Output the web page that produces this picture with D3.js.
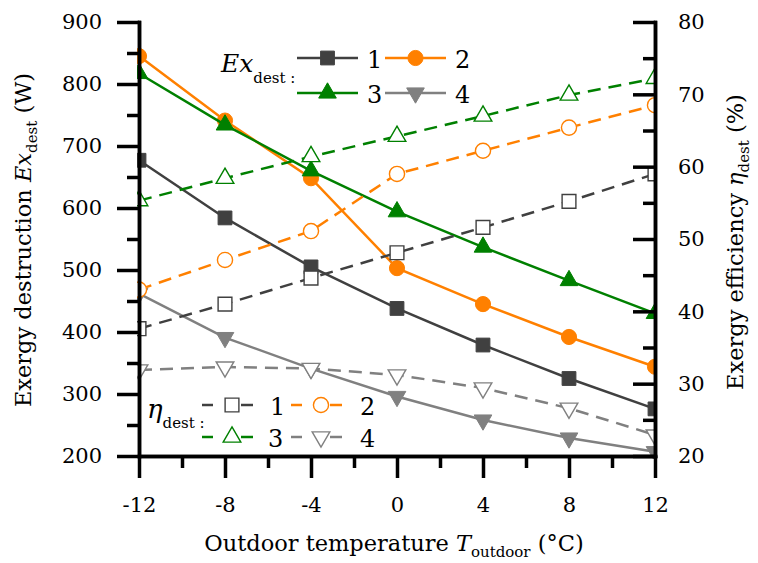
<!DOCTYPE html>
<html lang="en">
<head>
    <meta charset="UTF-8">
    <title>Exergy destruction and efficiency</title>
    <script src="https://d3js.org/d3.v7.min.js"></script>
    <style>
        body { margin: 0; background: #fff; }
        svg text { fill: #000; }
        .axis path, .axis line { stroke: #000; stroke-width: 3.5px; }
        .line { fill: none; stroke-width: 2.5px; }
    </style>
</head>
<body>
<div id="chart"></div>
<script>
    // outdoor temperature (°C)
    var temps = [-12, -8, -4, 0, 4, 8, 12];

    // exergy destruction Ex_dest (W), cases 1..4
    var ex1 = [677, 584, 505, 438, 379, 325, 276];
    var ex2 = [845, 741, 648, 503, 445, 392, 344];
    var ex3 = [817, 734, 660, 594, 537, 483, 430];
    var ex4 = [462, 391, 341, 296, 258, 229, 207];

    // exergy efficiency eta_dest (%), cases 1..4
    var eta1 = [37.6, 41.0, 44.6, 48.1, 51.6, 55.2, 59.0];
    var eta2 = [43.0, 47.1, 51.1, 59.0, 62.2, 65.4, 68.5];
    var eta3 = [55.3, 58.4, 61.4, 64.2, 67.0, 69.9, 72.2];
    var eta4 = [31.9, 32.3, 32.1, 31.2, 29.4, 26.6, 22.9];

    var xTicks = [-12, -8, -4, 0, 4, 8, 12];
    var yTicks = [200, 300, 400, 500, 600, 700, 800, 900];
    var y2Ticks = [20, 30, 40, 50, 60, 70, 80];

    var colors = ["#404040", "#ff8000", "#008000", "#808080"];
    var shapes = ["square", "circle", "triangle", "triangleDown"];

    var FONT = "'DejaVu Serif', 'Liberation Serif', serif";

    var W = 758, H = 563;
    var pLeft = 139, pRight = 655, pTop = 22, pBottom = 456;

    var x = d3.scaleLinear().domain([-12, 12]).range([pLeft, pRight]);
    var y = d3.scaleLinear().domain([200, 900]).range([pBottom, pTop]);
    var y2 = d3.scaleLinear().domain([20, 80]).range([pBottom, pTop]);

    var svg = d3.select("#chart").append("svg")
        .attr("width", W)
        .attr("height", H)
        .attr("font-family", FONT);

    svg.append("clipPath").attr("id", "clip")
        .append("rect")
        .attr("x", pLeft - 2).attr("y", 0)
        .attr("width", pRight - pLeft + 4).attr("height", pBottom + 3);

    function symbolPath(shape) {
        var type = d3.symbolSquare, size = 190;
        if (shape === "circle") { type = d3.symbolCircle; size = 180; }
        if (shape === "triangle" || shape === "triangleDown") { type = d3.symbolTriangle; size = 135; }
        return d3.symbol().type(type).size(size)();
    }

    function marker(g, shape, color, filled, cx, cy) {
        g.append("path")
            .attr("d", symbolPath(shape))
            .attr("transform", "translate(" + cx + "," + cy + ")" + (shape === "triangleDown" ? " rotate(180)" : ""))
            .attr("fill", filled ? color : "#fff")
            .attr("stroke", color)
            .attr("stroke-width", filled ? 1 : 1.4);
    }

    var plot = svg.append("g").attr("clip-path", "url(#clip)");

    function drawSeries(vals, scale, i, dashed) {
        var pts = temps.map(function(t, k) { return [x(t), scale(vals[k])]; });
        plot.append("path")
            .attr("class", "line")
            .attr("d", d3.line()(pts))
            .attr("stroke", colors[i])
            .attr("stroke-dasharray", dashed ? "13,8" : null);
        pts.forEach(function(p) { marker(plot, shapes[i], colors[i], !dashed, p[0], p[1]); });
    }

    [ex1, ex2, ex3, ex4].forEach(function(v, i) { drawSeries(v, y, i, false); });
    [eta1, eta2, eta3, eta4].forEach(function(v, i) { drawSeries(v, y2, i, true); });

    // axes
    var fmt = function(d) { return String(d); };

    function minor(ticks) {
        var out = [];
        for (var k = 0; k < ticks.length - 1; k++) out.push((ticks[k] + ticks[k + 1]) / 2);
        return out;
    }

    function addAxis(axis, tx, ty) {
        svg.append("g").attr("class", "axis")
            .attr("transform", "translate(" + tx + "," + ty + ")")
            .call(axis)
            .attr("font-family", FONT);
    }

    addAxis(d3.axisBottom(x).tickValues(minor(xTicks)).tickSize(12).tickSizeOuter(0).tickFormat(""), 0, pBottom);
    addAxis(d3.axisBottom(x).tickValues(xTicks).tickSize(22).tickSizeOuter(0).tickPadding(19).tickFormat(fmt), 0, pBottom);
    addAxis(d3.axisLeft(y).tickValues(minor(yTicks)).tickSize(12).tickSizeOuter(0).tickFormat(""), pLeft, 0);
    addAxis(d3.axisLeft(y).tickValues(yTicks).tickSize(22).tickSizeOuter(0).tickPadding(15).tickFormat(fmt), pLeft, 0);
    addAxis(d3.axisRight(y2).tickValues(minor(y2Ticks)).tickSize(-12).tickSizeOuter(0).tickFormat(""), pRight, 0);
    addAxis(d3.axisRight(y2).tickValues(y2Ticks).tickSize(-22).tickSizeOuter(0).tickPadding(23).tickFormat(fmt), pRight, 0);

    svg.selectAll(".axis path").attr("stroke-linecap", "square");
    svg.selectAll(".axis text").attr("font-size", 21);

    // axis titles
    var xt = svg.append("text")
        .attr("x", 394).attr("y", 551)
        .attr("text-anchor", "middle")
        .style("font-size", "22.5px");
    xt.append("tspan").text("Outdoor temperature ");
    xt.append("tspan").style("font-style", "italic").text("T");
    xt.append("tspan").attr("dy", 6).style("font-size", "15px").text("outdoor");
    xt.append("tspan").attr("dy", -6).text(" (°C)");

    var yt = svg.append("text")
        .attr("transform", "translate(31,240) rotate(-90)")
        .attr("text-anchor", "middle")
        .style("font-size", "22.5px");
    yt.append("tspan").text("Exergy destruction ");
    yt.append("tspan").style("font-style", "italic").text("Ex");
    yt.append("tspan").attr("dy", 6).style("font-size", "15px").text("dest");
    yt.append("tspan").attr("dy", -6).text(" (W)");

    var y2t = svg.append("text")
        .attr("transform", "translate(743,242) rotate(-90)")
        .attr("text-anchor", "middle")
        .style("font-size", "22.5px");
    y2t.append("tspan").text("Exergy efficiency ");
    y2t.append("tspan").style("font-style", "italic").text("η");
    y2t.append("tspan").attr("dy", 6).style("font-size", "15px").text("dest");
    y2t.append("tspan").attr("dy", -6).text(" (%)");

    // legend: Ex_dest
    var leg1 = svg.append("g");
    var l1 = leg1.append("text").attr("x", 221).attr("y", 72).style("font-size", "25px");
    l1.append("tspan").style("font-style", "italic").text("Ex");
    l1.append("tspan").attr("dy", 11).style("font-size", "15px").text("dest :");

    var legPos1 = [[297, 58, 367], [385, 58, 455], [297, 93, 367], [385, 93, 455]];
    legPos1.forEach(function(p, i) {
        leg1.append("line")
            .attr("x1", p[0]).attr("x2", p[0] + 61)
            .attr("y1", p[1]).attr("y2", p[1])
            .attr("stroke", colors[i]).attr("stroke-width", 2.5);
        marker(leg1, shapes[i], colors[i], true, p[0] + 30.5, p[1]);
        leg1.append("text").attr("x", p[2]).attr("y", p[1] + 10)
            .style("font-size", "24px").text(String(i + 1));
    });

    // legend: eta_dest
    var leg2 = svg.append("g");
    var l2 = leg2.append("text").attr("x", 147).attr("y", 418).style("font-size", "26px");
    l2.append("tspan").style("font-style", "italic").text("η");
    l2.append("tspan").attr("dy", 10).style("font-size", "15px").text("dest :");

    var legPos2 = [[202, 405, 270], [291, 405, 360], [202, 437, 268], [291, 437, 360]];
    legPos2.forEach(function(p, i) {
        leg2.append("line")
            .attr("x1", p[0]).attr("x2", p[0] + 11)
            .attr("y1", p[1]).attr("y2", p[1])
            .attr("stroke", colors[i]).attr("stroke-width", 2.5);
        leg2.append("line")
            .attr("x1", p[0] + 39).attr("x2", p[0] + 51)
            .attr("y1", p[1]).attr("y2", p[1])
            .attr("stroke", colors[i]).attr("stroke-width", 2.5);
        marker(leg2, shapes[i], colors[i], false, p[0] + 30, p[1]);
        leg2.append("text").attr("x", p[2]).attr("y", p[1] + 10)
            .style("font-size", "24px").text(String(i + 1));
    });
</script>
</body>
</html>
